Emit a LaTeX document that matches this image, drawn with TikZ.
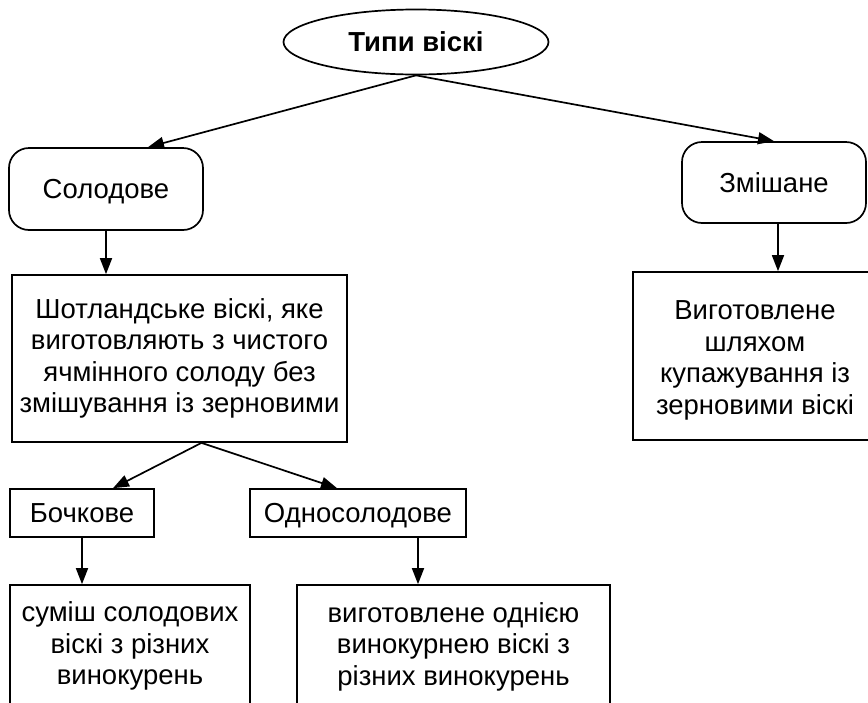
\documentclass[tikz,border=0pt]{standalone}
\usepackage{fontspec}
\setmainfont{Liberation Sans}
\usetikzlibrary{shapes.geometric,arrows.meta}
\tikzset{
  base/.style={draw=black, line width=1.7pt, inner sep=0pt, align=center,
    font=\fontsize{27.5}{31.5}\selectfont},
  oneline/.style={text height=19.7pt, text depth=0pt},
  oval/.style={base, oneline, ellipse, minimum width=265pt, minimum height=65pt, font=\fontsize{27.5}{31.5}\selectfont\bfseries},
  rbox/.style={base, oneline, rectangle, rounded corners=20pt},
  sbox/.style={base, rectangle},
  conn/.style={line width=1.7pt, -{Triangle[length=16pt,width=12pt]}}
}
\begin{document}
\begin{tikzpicture}[x=1pt,y=-1pt]
\useasboundingbox (0,0) rectangle (868,702);
\clip (0,0) rectangle (868,702);
\fill[white] (0,0) rectangle (868,702);

\node[oval] (top) at (416,42) {Типи віскі};
\node[rbox, minimum width=194pt, minimum height=82pt] (sol) at (106,189) {Солодове};
\node[rbox, minimum width=184pt, minimum height=81pt] (zm) at (774,182.5) {Змішане};
\node[sbox, minimum width=335pt, minimum height=167pt] (big) at (179.5,358.5)
  {Шотландське віскі, яке\\виготовляють з чистого\\ячмінного солоду без\\змішування із зерновими};
\node[sbox, minimum width=244pt, minimum height=168pt] (rt) at (755,356)
  {\rule{0pt}{28pt}Виготовлене\\шляхом\\купажування із\\зерновими віскі};
\node[sbox, oneline, minimum width=144pt, minimum height=48pt] (boch) at (82,513) {Бочкове};
\node[sbox, oneline, minimum width=216pt, minimum height=48pt] (odn) at (358,513) {Односолодове};
\node[sbox, minimum width=240pt, minimum height=122pt] (bl) at (130,646)
  {суміш солодових\\віскі з різних\\винокурень};
\node[sbox, minimum width=313pt, minimum height=123pt] (br) at (453.5,646.5)
  {виготовлене однією\\винокурнею віскі з\\різних винокурень};

\draw[conn] (top.south) -- ([xshift=42pt]sol.north);
\draw[conn] (top.south) -- (zm.north);
\draw[conn] (sol.south) -- (sol.south |- big.north);
\draw[conn] ([xshift=4pt]zm.south) -- ([xshift=4pt]zm.south |- rt.north);
\draw[conn] ([xshift=22pt]big.south) -- ([xshift=31pt]boch.north);
\draw[conn] ([xshift=22pt]big.south) -- ([xshift=-21pt]odn.north);
\draw[conn] (boch.south) -- (boch.south |- bl.north);
\draw[conn] ([xshift=60pt]odn.south) -- ([xshift=60pt]odn.south |- br.north);
\end{tikzpicture}
\end{document}
